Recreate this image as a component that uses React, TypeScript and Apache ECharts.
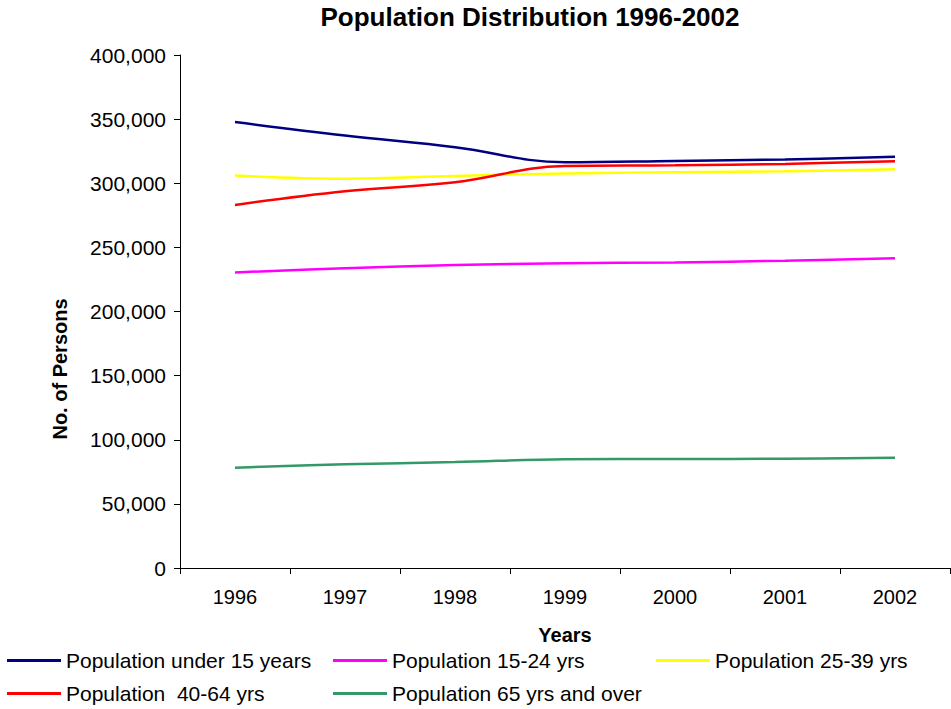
import React, { useEffect, useRef } from "react";
import * as echarts from "echarts";

const years = ["1996", "1997", "1998", "1999", "2000", "2001", "2002"];
const under15 = [347700, 337200, 328100, 316400, 317400, 318500, 320600];
const age15to24 = [230500, 233700, 236300, 237600, 238300, 239600, 241500];
const age25to39 = [306000, 303600, 305700, 307600, 308600, 309400, 310900];
const age40to64 = [283100, 293700, 300800, 313500, 314000, 315100, 317200];
const age65plus = [78200, 80800, 82600, 84700, 85000, 85200, 86000];

const seriesNames = [
  "Population under 15 years",
  "Population 15-24 yrs",
  "Population 25-39 yrs",
  "Population  40-64 yrs",
  "Population 65 yrs and over",
];
const seriesData = [under15, age15to24, age25to39, age40to64, age65plus];
const seriesColors = ["#000080", "#FF00FF", "#FFFF00", "#FF0000", "#339966"];

const FONT = "Arial, 'Liberation Sans', sans-serif";

const legendPos = [
  { left: 7, top: 650 },
  { left: 333, top: 650 },
  { left: 656, top: 650 },
  { left: 7, top: 683 },
  { left: 333, top: 683 },
];

export default function App() {
  const ref = useRef<HTMLDivElement>(null);
  useEffect(() => {
    if (!ref.current) return;
    const chart = echarts.init(ref.current, null, { renderer: "svg" });
    chart.setOption({
      animation: false,
      backgroundColor: "#ffffff",
      title: {
        text: "Population Distribution 1996-2002",
        left: 530,
        top: 4,
        textAlign: "center",
        padding: 0,
        textStyle: {
          fontFamily: FONT,
          fontSize: 26,
          fontWeight: "bold",
          color: "#000",
        },
      },
      grid: {
        left: 180,
        right: 1,
        top: 55,
        bottom: 141,
        containLabel: false,
        outerBoundsMode: "none",
      },
      legend: seriesNames.map((n, i) => ({
        data: [n],
        left: legendPos[i].left,
        top: legendPos[i].top,
        padding: 0,
        icon: "rect",
        itemWidth: 54,
        itemHeight: 3,
        selectedMode: false,
        textStyle: { fontFamily: FONT, fontSize: 21, color: "#000" },
      })),
      xAxis: {
        type: "category",
        data: years,
        boundaryGap: true,
        name: "Years",
        nameLocation: "middle",
        nameGap: 57,
        nameTextStyle: {
          fontFamily: FONT,
          fontSize: 20,
          fontWeight: "bold",
          color: "#000",
        },
        axisLine: { lineStyle: { color: "#000", width: 1 } },
        axisTick: { show: true, length: 6, inside: false, lineStyle: { color: "#000" } },
        axisLabel: { fontFamily: FONT, fontSize: 20, color: "#000", margin: 19 },
        splitLine: { show: false },
      },
      yAxis: {
        type: "value",
        min: 0,
        max: 400000,
        interval: 50000,
        axisLine: { show: true, lineStyle: { color: "#000", width: 1 } },
        axisTick: { show: true, length: 6, inside: false, lineStyle: { color: "#000" } },
        axisLabel: {
          fontFamily: FONT,
          fontSize: 21,
          color: "#000",
          margin: 14,
          formatter: (v: number) => v.toLocaleString("en-US"),
        },
        splitLine: { show: false },
      },
      graphic: [
        {
          type: "text",
          x: 60,
          y: 369,
          rotation: Math.PI / 2,
          style: {
            text: "No. of Persons",
            fontFamily: FONT,
            fontSize: 20,
            fontWeight: "bold",
            fill: "#000",
            align: "center",
            verticalAlign: "middle",
          },
        },
      ],
      series: seriesNames.map((n, i) => ({
        name: n,
        type: "line",
        data: seriesData[i],
        smooth: 0.4,
        showSymbol: false,
        symbol: "none",
        lineStyle: { color: seriesColors[i], width: 2.5 },
        itemStyle: { color: seriesColors[i] },
      })),
    });
    return () => chart.dispose();
  }, []);
  return <div ref={ref} style={{ width: 951, height: 709, position: "absolute", left: 0, top: 0 }} />;
}
